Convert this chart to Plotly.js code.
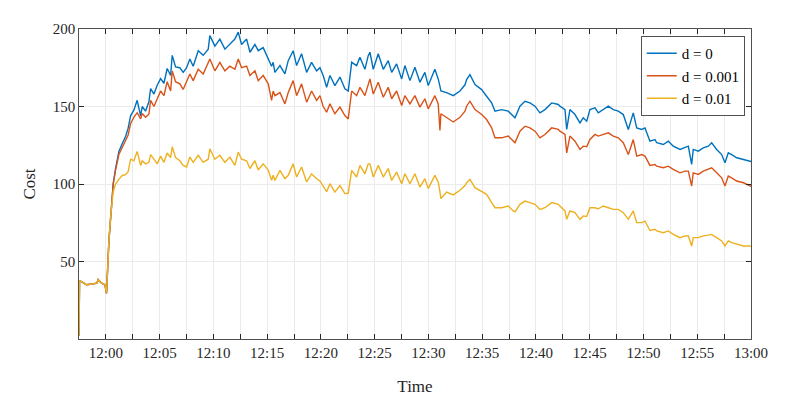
<!DOCTYPE html>
<html>
<head>
<meta charset="utf-8">
<script src="https://cdn.plot.ly/plotly-3.0.1.min.js"></script>
<style>
  html, body { margin: 0; padding: 0; background: #fff; }
  #cost-plot { width: 789px; height: 397px; }
</style>
</head>
<body>
<div id="cost-plot"></div>
<script>
// sample times, minutes after 12:00
var minutes = [
  -2.5,-2.45,-2.26,-1.8,-1.3,-0.84,-0.72,-0.4,-0.09,0.06,0.28,0.43,
  0.68,0.90,1.21,1.52,1.83,2.07,2.30,2.60,2.91,3.23,3.38,3.69,4.00,4.16,4.47,4.77,5.09,5.40,5.70,6.02,6.17,6.48,
  6.88,7.19,7.51,7.81,8.12,8.59,9.05,9.52,9.67,10.14,10.60,11.07,11.53,12.00,12.31,12.62,13.09,13.40,13.86,14.17,14.63,15.10,15.41,15.56,
  15.72,16.19,16.65,16.96,17.42,17.74,18.20,18.67,19.13,19.60,19.91,20.21,20.53,20.84,21.30,21.77,22.23,22.54,22.86,23.32,23.63,24.09,24.40,
  24.56,24.87,25.33,25.80,26.26,26.58,27.04,27.51,27.81,28.28,28.74,29.21,29.67,29.98,30.60,30.91,31.07,31.16,31.69,32.31,32.93,33.40,
  33.55,33.86,34.33,34.95,35.41,35.88,36.19,36.81,37.42,37.89,38.05,38.51,38.98,39.44,39.91,40.37,40.84,41.46,42.08,
  42.23,42.70,42.86,43.16,43.63,44.09,44.40,44.72,45.02,45.49,45.80,46.26,46.73,47.19,47.66,48.12,48.59,49.05,49.37,49.84,50.14,50.60,51.07,
  51.23,51.85,52.31,52.77,53.40,53.86,54.17,54.48,54.63,55.10,55.56,56.03,56.34,56.81,57.27,57.58,57.89,58.20,58.67,59.30,59.91,60
];

var cost_d0 = [
  2,37.5,37,35,35.5,36,38.3,36,35,29.5,63,79,
  100,110,121,126,130.6,136,144,147.6,154,144,150,147,153,161.5,158,163.7,168,165,174.5,170,183,175.5,
  175,172,175,180.7,176,186,183,187,195.7,189,193.5,187,190,193.5,198,190,193.5,185,190,186,188,180.7,176,178.5,
  172,176.4,171,179.6,186,176.4,184,172,178.5,173,175,170,162.4,170,163.5,169,161.4,160,178.5,176.4,181.8,174,182.8,
  185,174,184,174,179.6,172,177.5,167.8,176.4,166.7,175.3,165.7,172,163.5,174,167.8,163,160,159,157,160,164,
  167.4,170.6,164.1,160.9,156.6,152.3,147,148,147,143.7,142.7,150.2,153.4,152.3,150.2,145.9,148,152.3,151.3,
  150.2,148,135.2,148,144.8,139.4,142.7,140.5,148,149.1,145.9,148,150.2,148,147,144.8,135.2,145.9,136.2,135.2,136.2,127.6,128.7,
  126.6,125.5,127.6,124.4,122.3,123.3,124.4,112.6,122.3,121.2,123.3,124.4,126.6,122.3,119,113.7,120.1,119,116.9,115.8,114.8,114.5
];

var cost_d001 = [
  2,37.5,37,35,35.5,36,38.3,36,35,29.5,63,79,
  100,109,119,123.5,128,131.6,139,143,146,142,145.5,143,145,154,150,155,160,157,166,160,173,166,
  164.6,161,166.7,171,166.7,174,171,178.5,180.7,173,178.5,173,176,174,180.7,175,176,170,173,166.7,170,164.6,154,160,
  157,159,151.7,159,166.7,157,164.6,152.8,160,153.9,157,150,146.3,151.7,145.3,149.6,144.2,142,160,157,162.4,157,164.6,
  167.8,158,165.7,156,162.4,155,160,150.6,157,151.7,157,149.6,155,148.5,157,151.7,134.5,145.3,143,140,143,147,
  150.2,153.4,148,144.8,141.6,136.2,129.8,129.8,130.9,127.6,126.6,134.1,137.3,136.2,134.1,129.8,131.9,136.2,135.2,
  134.1,132,120.1,130.9,127.6,122.3,124.4,124,128.7,132,130.9,132,133,130.9,129.8,126.6,119,128.7,118,119,118,112,112.6,
  111.5,110.5,111.5,109.4,107.2,108.3,108.3,98.7,107.2,106.2,108.3,109.4,110.5,107.2,104,98.7,105.1,104,101.9,100.8,98.7,98.5
];

var cost_d01 = [
  2,37.5,37,35,35.5,36,38.3,36,35,29.5,63,78,
  95,100,103,105.5,106,108,116,115,121,112,115,113,114,119,116,113,118,114,120,117,124,117,
  115,112,111,117.4,114,118.5,114,116,122.7,116,118.5,114,117.4,112,120.6,116,115,110,115,109,113,109,102.4,105.6,
  102.3,108.8,103.4,105.6,113,104.5,111,101.3,106.6,103.4,102,99,95,100.2,94.8,99,93.8,94,108.8,104.5,112,106.6,113,
  113,104.5,112,104.5,110,102.3,107.7,100.2,106.6,100.2,106.6,98,103.4,97,105.6,101.3,95,90.6,94.8,93,96,99,
  100.8,103,97.6,95.4,93.3,88,84.7,84.7,85.8,82.6,82,86.9,89,88,86.9,83.6,84.7,88,86.9,
  85.8,82.6,77.2,82.6,81.5,77.2,79.4,79,84.7,84.7,84,85.8,84.7,83.6,83.6,81.5,77.2,82.6,75.1,75.1,76.1,70,70.8,
  69.7,68.6,69.7,67.5,65.4,66.5,66.5,60,65.4,65.4,66.5,67,67.5,65.4,63.3,60,63.3,62.2,61.1,60,60,59.5
];

var seriesNames = ['d = 0', 'd = 0.001', 'd = 0.01'];
var seriesColors = ['#0072BD', '#D95319', '#EDB120'];

// x ticks every 2.5 min, labels every 5 min
var tickMinutes = [0,2.5,5,7.5,10,12.5,15,17.5,20,22.5,25,27.5,30,32.5,35,37.5,40,42.5,45,47.5,50,52.5,55,57.5,60];
var tickLabels = ['12:00','','12:05','','12:10','','12:15','','12:20','','12:25','','12:30','','12:35','','12:40','','12:45','','12:50','','12:55','','13:00'];

var yTicks = [0, 50, 100, 150, 200];
var yLabels = ['', '50', '100', '150', '200'];

var base = Date.UTC(2024, 0, 1, 12, 0, 0);
function toTime(m) { return base + m * 60000; }

var times = minutes.map(toTime);
var allCosts = [cost_d0, cost_d001, cost_d01];

var data = allCosts.map(function (vals, i) {
  return {
    x: times,
    y: vals,
    type: 'scatter',
    mode: 'lines',
    name: seriesNames[i],
    line: { color: seriesColors[i], width: 1.4 }
  };
});

var serif = '"Liberation Serif", serif';
var axisColor = '#262626';

var layout = {
  width: 789,
  height: 397,
  margin: { l: 79, r: 38, t: 29, b: 58 },
  paper_bgcolor: '#fff',
  plot_bgcolor: '#fff',
  font: { family: serif, size: 15, color: axisColor },
  showlegend: true,
  legend: {
    x: 0.991, y: 0.977, xanchor: 'right', yanchor: 'top',
    bgcolor: '#fff', bordercolor: axisColor, borderwidth: 0.8,
    font: { family: serif, size: 15, color: '#000' },
    itemwidth: 30, tracegroupgap: 0
  },
  xaxis: {
    type: 'date',
    range: [toTime(-2.5), toTime(60)],
    tickmode: 'array',
    tickvals: tickMinutes.map(toTime),
    ticktext: tickLabels,
    ticks: 'inside', ticklen: 5, tickcolor: axisColor,
    showline: true, linecolor: axisColor, linewidth: 0.8, mirror: 'ticks',
    showgrid: true, gridcolor: '#ebebeb', gridwidth: 1,
    zeroline: false,
    tickfont: { family: serif, size: 15, color: axisColor },
    title: { text: 'Time', font: { family: serif, size: 17, color: axisColor }, standoff: 20 }
  },
  yaxis: {
    range: [0, 200],
    tickmode: 'array',
    tickvals: yTicks,
    ticktext: yLabels,
    ticks: 'inside', ticklen: 5, tickcolor: axisColor,
    showline: true, linecolor: axisColor, linewidth: 0.8, mirror: 'ticks',
    showgrid: true, gridcolor: '#ebebeb', gridwidth: 1,
    zeroline: false,
    tickfont: { family: serif, size: 15, color: axisColor },
    title: { text: 'Cost', font: { family: serif, size: 17, color: axisColor }, standoff: 12 }
  }
};

Plotly.newPlot('cost-plot', data, layout, { displayModeBar: false, staticPlot: true });
</script>
</body>
</html>
